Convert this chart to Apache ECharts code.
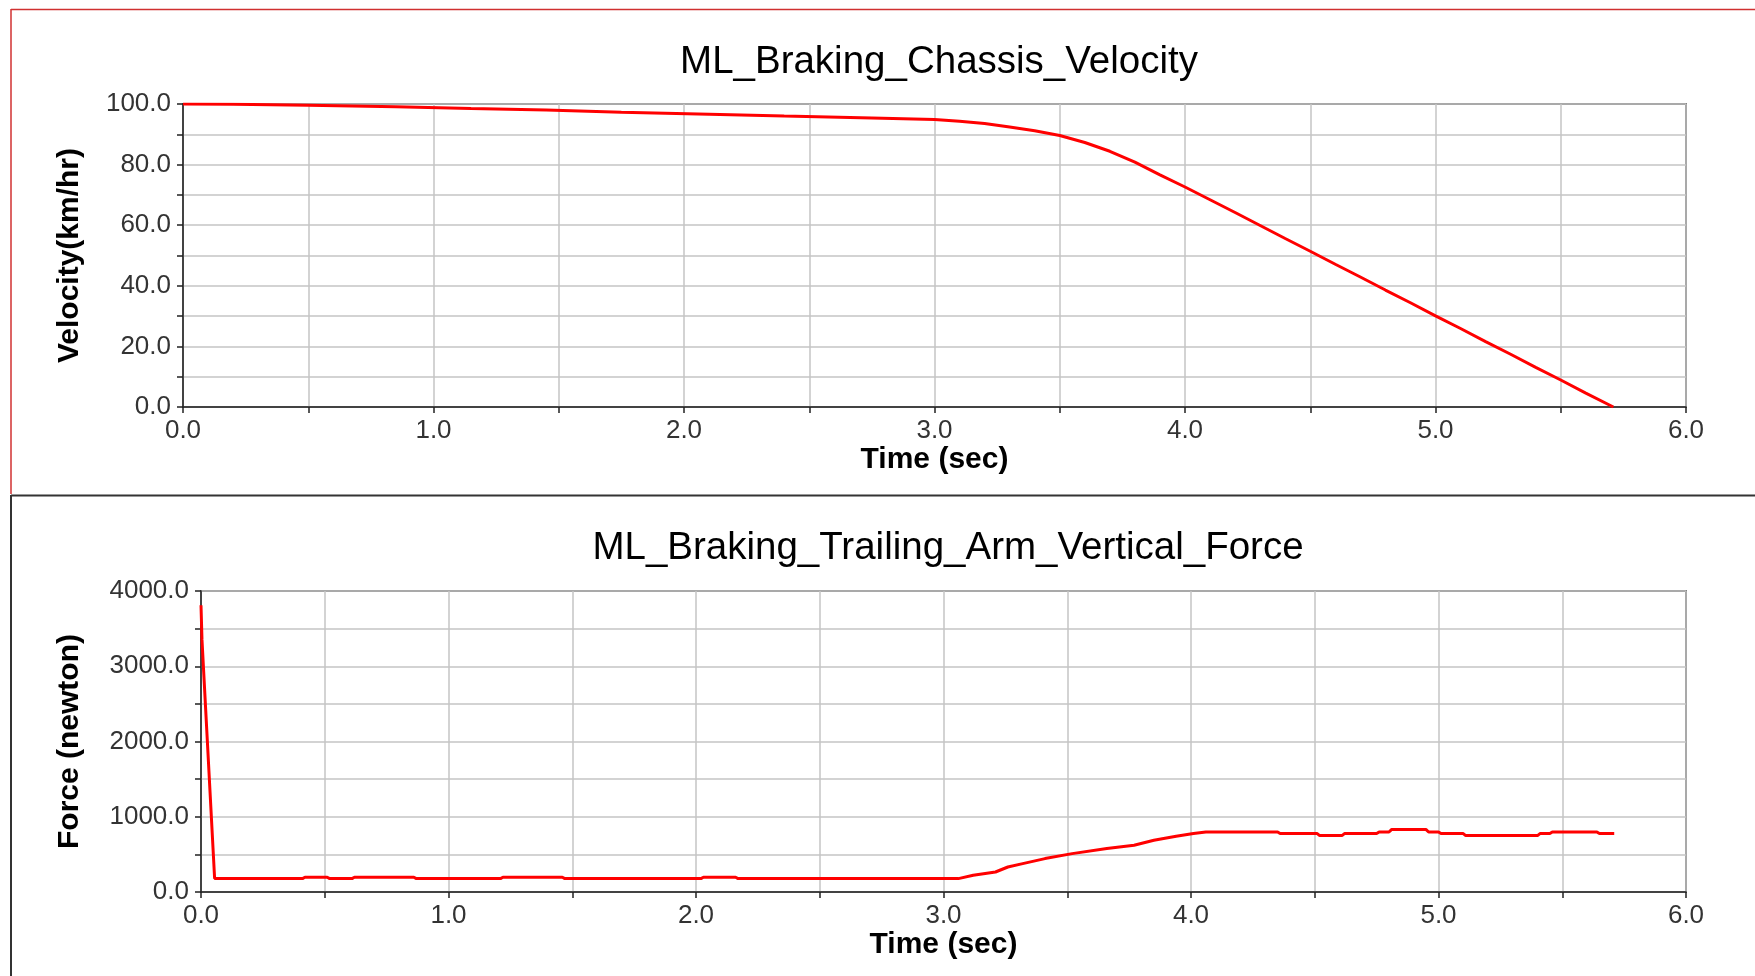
<!DOCTYPE html>
<html>
<head>
  <meta charset="utf-8">
  <title>ML_Braking</title>
  <script src="https://cdn.jsdelivr.net/npm/echarts@6/dist/echarts.min.js"></script>
  <style>
    html, body {
      margin: 0;
      padding: 0;
      background: #ffffff;
    }
    #main {
      width: 1755px;
      height: 976px;
    }
  </style>
</head>
<body>
<div id="main"></div>
<script>
  // 速度曲线 (time sec, km/hr)
  var velTime = [0.0, 0.2, 0.5, 0.85, 1.15, 1.45, 1.75, 2.1, 2.4, 2.75, 3.0, 3.1, 3.2, 3.3, 3.4, 3.5, 3.6, 3.7, 3.8, 3.9,
    4.0, 4.1, 4.2, 4.3, 4.4, 4.5, 4.6, 4.7, 4.8, 4.9, 5.0, 5.1, 5.2, 5.3, 5.4, 5.5, 5.6, 5.71]
  var velocity = [100.0, 99.9, 99.6, 99.1, 98.5, 98.0, 97.3, 96.6, 96.0, 95.4, 94.9, 94.3, 93.6, 92.4, 91.2, 89.6, 87.3, 84.4, 80.8, 76.6,
    72.6, 68.4, 64.2, 59.9, 55.6, 51.4, 47.1, 42.9, 38.6, 34.4, 30.1, 25.9, 21.6, 17.4, 13.1, 8.9, 4.6, 0.0]

  // 拖臂垂直力 (time sec, newton)
  var forceTime = [0, 0.004, 0.055, 0.41, 0.42, 0.51, 0.52, 0.61, 0.62, 0.86, 0.87, 1.21, 1.22, 1.46, 1.47, 2.02, 2.03, 2.16, 2.17,
    3.06, 3.12, 3.21, 3.26, 3.32, 3.41, 3.52, 3.66, 3.77, 3.85, 3.94, 4.01, 4.06, 4.35, 4.36, 4.51, 4.52, 4.61, 4.62, 4.75, 4.76,
    4.80, 4.81, 4.95, 4.96, 5.00, 5.01, 5.10, 5.11, 5.40, 5.41, 5.45, 5.46, 5.64, 5.65, 5.71]
  var force = [3810, 3350, 180, 178, 196, 196, 178, 178, 196, 196, 178, 178, 196, 196, 178, 178, 196, 196, 178,
    178, 222, 266, 332, 377, 444, 510, 577, 621, 687, 740, 776, 797, 797, 776, 776, 750, 750, 776, 776, 797,
    797, 829, 829, 797, 797, 776, 776, 750, 750, 776, 776, 797, 797, 776, 776]

  var xTicks = [0, 6, 0.5]        // min, max, interval
  var velTicks = [0, 100, 10]
  var forceTicks = [0, 4000, 500]

  var titles = ['ML_Braking_Chassis_Velocity', 'ML_Braking_Trailing_Arm_Vertical_Force']
  var yNames = ['Velocity(km/hr)', 'Force (newton)']
  var xName = 'Time (sec)'

  var font = 'Liberation Sans, Arial, sans-serif'

  function toPairs(xs, ys) {
    return xs.map(function (x, i) { return [x, ys[i]] })
  }

  function xAxisOf(gridIndex) {
    return {
      type: 'value',
      gridIndex: gridIndex,
      min: xTicks[0],
      max: xTicks[1],
      interval: xTicks[2],
      name: xName,
      nameLocation: 'middle',
      nameGap: 36,
      nameTextStyle: { fontFamily: font, fontSize: 30, fontWeight: 'bold', color: '#000' },
      axisLine: { show: true, lineStyle: { color: '#222', width: 1.5 } },
      axisTick: { show: true, length: 6, lineStyle: { color: '#222', width: 1.5 } },
      axisLabel: {
        margin: 11,
        fontFamily: font,
        fontSize: 26,
        color: '#333',
        showMinLabel: true,
        showMaxLabel: true,
        formatter: function (v) {
          return Math.abs(v - Math.round(v)) < 1e-6 ? v.toFixed(1) : ''
        }
      },
      splitLine: { show: true, lineStyle: { color: '#c4c4c4', width: 1.5 } }
    }
  }

  function yAxisOf(gridIndex, ticks, name, labelStep, gap) {
    return {
      type: 'value',
      gridIndex: gridIndex,
      min: ticks[0],
      max: ticks[1],
      interval: ticks[2],
      name: name,
      nameLocation: 'middle',
      nameGap: gap,
      nameRotate: 90,
      nameTextStyle: { fontFamily: font, fontSize: 30, fontWeight: 'bold', color: '#000' },
      axisLine: { show: true, lineStyle: { color: '#222', width: 1.5 } },
      axisTick: { show: true, length: 6, lineStyle: { color: '#222', width: 1.5 } },
      axisLabel: {
        margin: 12,
        fontFamily: font,
        fontSize: 26,
        color: '#333',
        formatter: function (v) {
          return Math.abs(v % labelStep) < 1e-6 ? v.toFixed(1) : ''
        }
      },
      splitLine: { show: true, lineStyle: { color: '#c4c4c4', width: 1.5 } }
    }
  }

  var chart = echarts.init(document.getElementById('main'), null, { renderer: 'canvas' })

  var option = {
    backgroundColor: '#ffffff',
    animation: false,
    title: [
      {
        text: titles[0],
        left: 934,
        top: 38,
        textAlign: 'center',
        textStyle: { fontFamily: font, fontSize: 38.5, fontWeight: 'normal', color: '#000' }
      },
      {
        text: titles[1],
        left: 943,
        top: 524,
        textAlign: 'center',
        textStyle: { fontFamily: font, fontSize: 38.5, fontWeight: 'normal', color: '#000' }
      }
    ],
    grid: [
      { left: 183, top: 104, width: 1503, height: 303, show: true, borderColor: '#222', borderWidth: 1.5 },
      { left: 201, top: 591, width: 1485, height: 301, show: true, borderColor: '#222', borderWidth: 1.5 }
    ],
    xAxis: [xAxisOf(0), xAxisOf(1)],
    yAxis: [
      yAxisOf(0, velTicks, yNames[0], 20, 98),
      yAxisOf(1, forceTicks, yNames[1], 1000, 116)
    ],
    series: [
      {
        type: 'line',
        xAxisIndex: 0,
        yAxisIndex: 0,
        data: toPairs(velTime, velocity),
        showSymbol: false,
        lineStyle: { color: '#ff0000', width: 3 }
      },
      {
        type: 'line',
        xAxisIndex: 1,
        yAxisIndex: 1,
        data: toPairs(forceTime, force),
        showSymbol: false,
        lineStyle: { color: '#ff0000', width: 3 }
      }
    ],
    // panel frames
    graphic: [
      { type: 'line', shape: { x1: 11, y1: 9.5, x2: 1755, y2: 9.5 }, style: { stroke: '#d03030', lineWidth: 1.5 } },
      { type: 'line', shape: { x1: 11, y1: 9, x2: 11, y2: 494 }, style: { stroke: '#d03030', lineWidth: 1.5 } },
      { type: 'line', shape: { x1: 11, y1: 495.5, x2: 1755, y2: 495.5 }, style: { stroke: '#333', lineWidth: 2 } },
      { type: 'line', shape: { x1: 11, y1: 495, x2: 11, y2: 976 }, style: { stroke: '#333', lineWidth: 2 } }
    ]
  }

  chart.setOption(option)
</script>
</body>
</html>
